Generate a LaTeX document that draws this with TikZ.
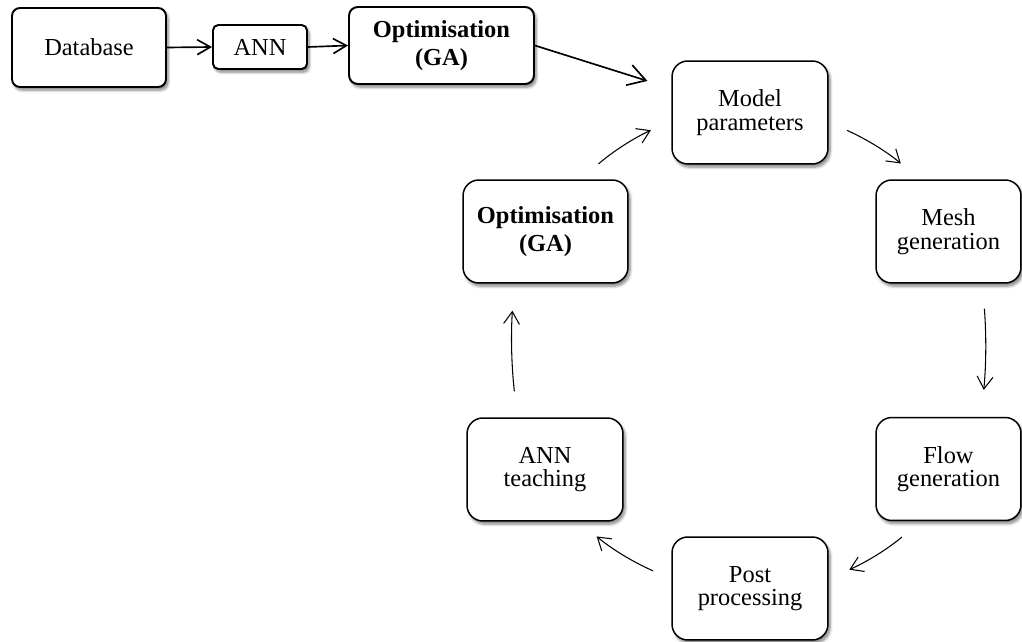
\documentclass[tikz,border=0pt]{standalone}
\usepackage{fontspec}
\setmainfont{Liberation Serif}
\usetikzlibrary{arrows.meta,shadows.blur}
\begin{document}
\begin{tikzpicture}[x=0.02cm,y=-0.02cm,
  shad/.style={blur shadow={shadow xshift=1.2pt,shadow yshift=-1.8pt,shadow blur radius=1.6pt,shadow blur steps=6,shadow opacity=50}},
  topbox/.style={draw,line width=1.1pt,fill=white,align=center,inner sep=0pt,shad,
    font=\fontsize{13.9}{15.5}\selectfont},
  cycbox/.style={draw,line width=0.85pt,rounded corners=9pt,fill=white,align=center,inner sep=0pt,shad,
    minimum height=2.06cm,font=\fontsize{13.9}{13.4}\selectfont},
  boldbox/.style={cycbox,font=\fontsize{13.9}{16}\selectfont\bfseries},
  toparrow/.style={line width=0.95pt,-{Straight Barb[length=7.5pt,width=8.5pt]}},
  bigarrow/.style={line width=0.95pt,-{Straight Barb[length=10pt,width=12pt]}},
  cycarrow/.style={line width=0.6pt,-{Straight Barb[length=7pt,width=9pt]}}]
\useasboundingbox (0,0) rectangle (1022,642);
% top row
\node[topbox,rounded corners=4.5pt,minimum width=3.08cm,minimum height=1.58cm] (db) at (89,47.5) {Database};
\node[topbox,rounded corners=3pt,minimum width=1.88cm,minimum height=0.88cm] (ann) at (260,47) {ANN};
\node[topbox,rounded corners=5pt,minimum width=3.70cm,minimum height=1.54cm,font=\fontsize{13.9}{16}\selectfont\bfseries] (opt1) at (441.5,45.5) {Optimisation\\(GA)};
% cycle
\node[cycbox,minimum width=3.12cm] (model) at (750,112.5) {Model\\parameters};
\node[cycbox,minimum width=2.90cm] (mesh) at (948.5,231.5) {Mesh\\generation};
\node[cycbox,minimum width=2.90cm] (flow) at (948.5,469) {Flow\\generation};
\node[cycbox,minimum width=3.12cm] (post) at (750,588.5) {Post\\processing};
\node[cycbox,minimum width=3.12cm] (annt) at (545,469.5) {ANN\\teaching};
\node[boldbox,minimum width=3.30cm] (opt2) at (545.5,231.5) {Optimisation\\(GA)};
% top arrows
\draw[toparrow] (db.east) -- (ann.west);
\draw[toparrow] (ann.east) -- (opt1.west);
\draw[bigarrow,shorten >=0.5cm] (opt1.east) -- (model.163);
% cycle arrows
\draw[cycarrow,shorten <=0.47cm,shorten >=0.45cm] (opt2.56) to[bend left=8] (model.186);
\draw[cycarrow,shorten <=0.4cm,shorten >=0.49cm] (model.-7) to[bend left=8] (mesh.119);
\draw[cycarrow,shorten <=0.5cm,shorten >=0.54cm] (mesh.-57) to[bend left=5] (flow.58);
\draw[cycarrow,shorten <=0.49cm,shorten >=0.45cm] (flow.-118) to[bend left=8] (post.7);
\draw[cycarrow,shorten <=0.4cm,shorten >=0.46cm] (post.173) to[bend left=8] (annt.-57);
\draw[cycarrow,shorten <=0.52cm,shorten >=0.54cm] (annt.118) to[bend left=5] (opt2.-121);
\end{tikzpicture}
\end{document}
